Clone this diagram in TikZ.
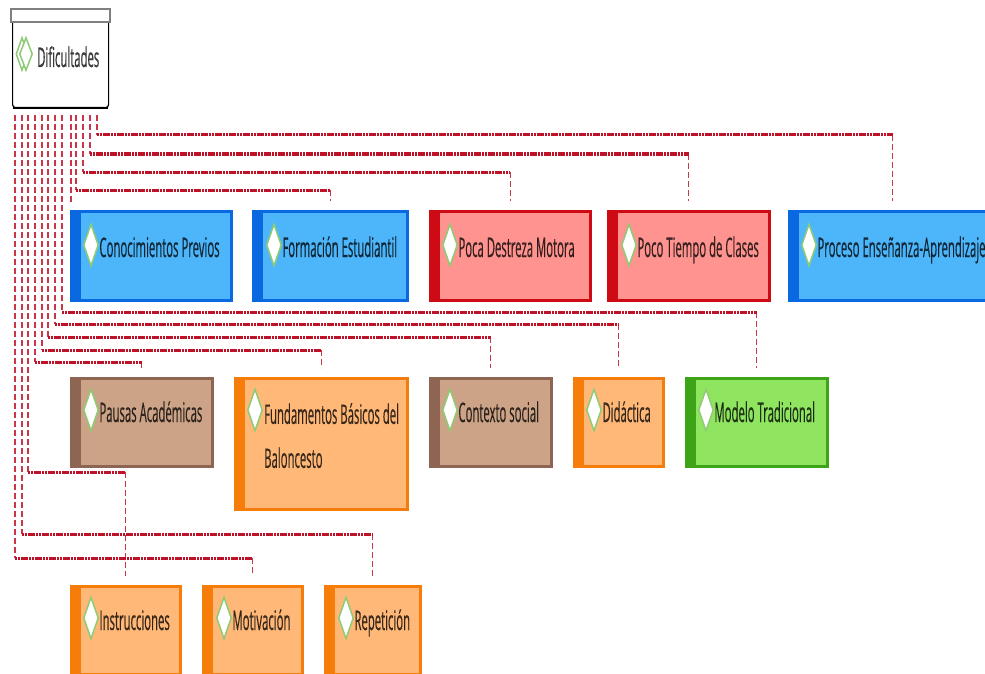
\documentclass[tikz,border=0pt]{standalone}
\usepackage{fontspec}
\setmainfont[FakeStretch=0.42,FakeBold=0.35]{Open Sans}
\usetikzlibrary{shapes.geometric,positioning}
\definecolor{blueedge}{HTML}{0A68E0}
\definecolor{bluefill}{HTML}{4DB6FB}
\definecolor{rededge}{HTML}{CE0A14}
\definecolor{redfill}{HTML}{FF938F}
\definecolor{brownedge}{HTML}{8D6552}
\definecolor{brownfill}{HTML}{CCA386}
\definecolor{orangeedge}{HTML}{F67D0A}
\definecolor{orangefill}{HTML}{FFB878}
\definecolor{greenedge}{HTML}{3CA416}
\definecolor{greenfill}{HTML}{8FE55F}
\definecolor{linkred}{HTML}{BE1228}
\definecolor{gemgreen}{HTML}{8FCB75}
\tikzset{
  tema/.style n args={2}{draw=#1, fill=#2, line width=2.8pt, anchor=north west, inner sep=0pt,
    path picture={\fill[#1] (path picture bounding box.north west) rectangle
      ([xshift=10pt]path picture bounding box.south west);}},
  azul/.style={tema={blueedge}{bluefill}},
  rojo/.style={tema={rededge}{redfill}},
  cafe/.style={tema={brownedge}{brownfill}},
  naranja/.style={tema={orangeedge}{orangefill}},
  verde/.style={tema={greenedge}{greenfill}},
  gem/.style={diamond, draw=gemgreen, fill=white, line width=1.5pt, inner sep=0pt,
    minimum width=15pt, minimum height=42pt},
  letra/.style={font=\fontsize{27}{32}\selectfont, text=black, text opacity=.75, inner sep=0pt},
  rotulo/.style={letra, text height=20pt, text depth=6pt, yshift=-5pt},
  bajada/.style={draw=linkred!85, line width=1.1pt, dash pattern=on 6pt off 3pt},
  tramo/.style={draw=linkred, line width=3pt, dash pattern=on 2.2pt off .6pt},
}
\begin{document}
\begin{tikzpicture}[x=1pt,y=-1pt]
    \useasboundingbox (0,0) rectangle (985,674);
    \clip (0,0) rectangle (985,674);
    % raiz
    \node (dif) [draw=black, fill=white, line width=1.2pt, rounded corners=3pt, anchor=north west,
        minimum width=96pt, minimum height=92pt] at (12,15) {};
    \draw [line width=2.5pt] ([xshift=1pt]dif.south west) -- ([xshift=-1pt]dif.south east);
    \node (difbar) [draw=black!50, fill=white, line width=2.4pt, anchor=north west,
        minimum width=99pt, minimum height=13pt] at (10,8) {};
    \node (difback) [gem, minimum height=33pt, minimum width=12pt] at (22,54) {};
    \node (difgem) [gem, minimum height=33pt, minimum width=13pt] at (26,54) {};
    \node (diftxt) [rotulo, anchor=west] at (37,55) {Dificultades};
    % primera fila
    \node (conoc) [azul, minimum width=160pt, minimum height=89pt] at (70,210) {};
    \node (form) [azul, minimum width=154pt, minimum height=89pt] at (252,210) {};
    \node (poca) [rojo, minimum width=160pt, minimum height=89pt] at (429,210) {};
    \node (tiempo) [rojo, minimum width=161pt, minimum height=89pt] at (607,210) {};
    \node (proc) [azul, minimum width=206pt, minimum height=89pt] at (788,210) {};
    \node (conocgem) [gem, label={[rotulo]right:Conocimientos Previos}] at (91,245) {};
    \node (formgem) [gem, label={[rotulo]right:Formación Estudiantil}] at (274,245) {};
    \node (pocagem) [gem, label={[rotulo]right:Poca Destreza Motora}] at (450,245) {};
    \node (tiempogem) [gem, label={[rotulo]right:Poco Tiempo de Clases}] at (629,245) {};
    \node (procgem) [gem, label={[rotulo]right:Proceso Enseñanza-Aprendizaje}] at (809,245) {};
    % segunda fila
    \node (pausas) [cafe, minimum width=141pt, minimum height=88pt] at (70,377) {};
    \node (fund) [naranja, minimum width=172pt, minimum height=131pt] at (234,377) {};
    \node (contx) [cafe, minimum width=121pt, minimum height=88pt] at (429,377) {};
    \node (didac) [naranja, minimum width=89pt, minimum height=88pt] at (573,377) {};
    \node (model) [verde, minimum width=141pt, minimum height=88pt] at (685,377) {};
    \node (pausasgem) [gem, label={[rotulo]right:Pausas Académicas}] at (91,410) {};
    \node (fundgem) [gem] at (255,410) {};
    \node (fundtxt) [letra, align=left, anchor=north west] at (264,403) {Fundamentos Básicos del\\[12pt]Baloncesto};
    \node (contxgem) [gem, label={[rotulo]right:Contexto social}] at (450,410) {};
    \node (didacgem) [gem, label={[rotulo]right:Didáctica}] at (594,410) {};
    \node (modelgem) [gem, label={[rotulo]right:Modelo Tradicional}] at (706,410) {};
    % tercera fila
    \node (instr) [naranja, minimum width=109pt, minimum height=88pt] at (70,585) {};
    \node (motiv) [naranja, minimum width=99pt, minimum height=88pt] at (202,585) {};
    \node (repet) [naranja, minimum width=95pt, minimum height=88pt] at (324,585) {};
    \node (instrgem) [gem, label={[rotulo]right:Instrucciones}] at (91,618) {};
    \node (motivgem) [gem, label={[rotulo]right:Motivación}] at (224,618) {};
    \node (repetgem) [gem, label={[rotulo]right:Repetición}] at (346,618) {};
    % conectores
    \coordinate (ini) at (71,115);
    \coordinate (fin) at (71,203);
    \draw [bajada] (ini) -- (fin);
    \foreach \dest/\sx/\hy in {form/76/190, poca/83/172, tiempo/90/154, proc/97/135,
        model/62/312, didac/55/324, contx/48/337, fund/42/350, pausas/35/362,
        instr/28/472, repet/22/534, motiv/15/558} {
        \coordinate (ini) at (\sx,115);
        \coordinate (codo) at (\sx,\hy);
        \draw [bajada] (ini) -- (codo);
        \draw [bajada] (codo -| \dest.north) -- ([yshift=9pt]\dest.north);
        \draw [tramo] (codo) -- (codo -| \dest.north);
    }
\end{tikzpicture}
\end{document}
